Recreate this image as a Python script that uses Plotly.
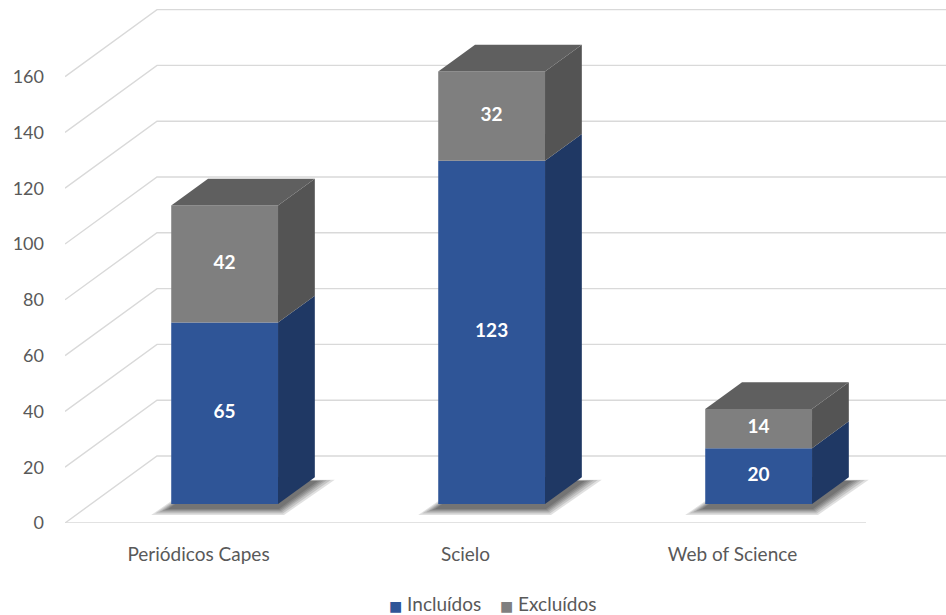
import plotly.graph_objects as go

# ---- data ----
categories = ["Periódicos Capes", "Scielo", "Web of Science"]
incluidos = [65, 123, 20]
excluidos = [42, 32, 14]
y_ticks = [0, 20, 40, 60, 80, 100, 120, 140, 160]
series_names = ["Incluídos", "Excluídos"]

# ---- styles / geometry of the pseudo-3D projection ----
FONT = "Lato"
TXT = "#595959"
GRID = "#d9d9d9"
BLUE_FRONT, BLUE_SIDE, BLUE_TOP = "#2f5597", "#1f3864", "#264a80"
GREY_FRONT, GREY_SIDE, GREY_TOP = "#7f7f7f", "#545454", "#5f5f5f"

PX_X = 267.0      # pixels per category unit
PX_Y = 2.79       # pixels per value unit
DX = 92 / PX_X    # full depth offset in x units
DY = 67 / PX_Y    # full depth offset in value units
Z0 = 0.284        # bar front depth fraction
ZD = 0.40         # bar depth fraction
BW = 0.4          # bar width in category units
PLOT_L, PLOT_H = 65, 523

fig = go.Figure()

x0 = -0.5
x_end = x0 + (946 - PLOT_L) / PX_X
y_top = PLOT_H / PX_Y


def poly(xs, ys, color, opacity=1.0):
    fig.add_trace(go.Scatter(x=xs + [xs[0]], y=ys + [ys[0]], mode="lines",
                             fill="toself", fillcolor=color, opacity=opacity,
                             line=dict(width=0, color=color), hoverinfo="skip",
                             showlegend=False))


# gridlines: front diagonal + back wall horizontal
for v in y_ticks:
    fig.add_trace(go.Scatter(x=[x0, x0 + DX, x_end], y=[v, v + DY, v + DY], mode="lines",
                             line=dict(color=GRID, width=1.4), hoverinfo="skip",
                             showlegend=False))
# floor front edge
fig.add_trace(go.Scatter(x=[x0, len(categories) - 0.5], y=[0, 0], mode="lines",
                         line=dict(color=GRID, width=1.4), hoverinfo="skip", showlegend=False))

bx = Z0 * DX
by = Z0 * DY
dx = ZD * DX
dy = ZD * DY

# shadows
for i, _ in enumerate(categories):
    xl = i + bx - BW / 2
    xr = i + bx + BW / 2
    for e in [20, 16, 12, 9, 6, 3]:
        ex = e / PX_X
        ey = e * 0.35 / PX_Y
        sh = 4 / PX_Y
        poly([xl - ex, xr + ex * 0.3, xr + dx + ex, xl + dx - ex * 0.3],
             [by - ey - sh, by - ey - sh, by + dy - sh + ey * 0.2, by + dy - sh + ey * 0.2],
             "#000000", 0.12)

# bars
label_x, label_y, label_t = [], [], []
for i, _ in enumerate(categories):
    xl = i + bx - BW / 2
    xr = i + bx + BW / 2
    segs = [(0, incluidos[i], BLUE_FRONT, BLUE_SIDE, BLUE_TOP),
            (incluidos[i], incluidos[i] + excluidos[i], GREY_FRONT, GREY_SIDE, GREY_TOP)]
    for k, (lo, hi, cf, cs, ct) in enumerate(segs):
        poly([xl, xr, xr, xl], [by + lo, by + lo, by + hi, by + hi], cf)
        poly([xr, xr + dx, xr + dx, xr], [by + lo, by + lo + dy, by + hi + dy, by + hi], cs)
        if k == len(segs) - 1:
            poly([xl, xr, xr + dx, xl + dx], [by + hi, by + hi, by + hi + dy, by + hi + dy], ct)
        label_x.append(i + bx)
        label_y.append(by + (lo + hi) / 2)
        label_t.append(f"<b>{hi - lo}</b>")

fig.add_trace(go.Scatter(x=label_x, y=label_y, text=label_t, mode="text",
                         textfont=dict(family=FONT, size=19, color="white"),
                         hoverinfo="skip", showlegend=False))

# legend (manual, tight symbol/text spacing like the original)
legend_x = [0.3655, 0.492]
for name, col, lx in zip(series_names, [BLUE_FRONT, GREY_FRONT], legend_x):
    fig.add_annotation(xref="paper", yref="paper", x=lx, y=-0.153,
                       xanchor="left", yanchor="middle", showarrow=False,
                       text=f"<span style='color:{col}; font-family:DejaVu Sans; font-size:14px'>■</span> {name}",
                       font=dict(family=FONT, size=19, color=TXT))

fig.update_layout(
    width=946, height=615,
    margin=dict(l=PLOT_L, r=0, t=0, b=615 - PLOT_H),
    paper_bgcolor="white", plot_bgcolor="white",
    font=dict(family=FONT, size=19, color=TXT),
    showlegend=False,
)
fig.update_xaxes(range=[x0, x_end], tickmode="array", tickvals=list(range(len(categories))),
                 ticktext=categories, showgrid=False, zeroline=False, showline=False,
                 ticks="", ticklabelstandoff=18, fixedrange=True,
                 tickfont=dict(family=FONT, size=19, color=TXT))
fig.update_yaxes(range=[0, y_top], tickmode="array", tickvals=y_ticks,
                 ticktext=[str(v) for v in y_ticks], showgrid=False, zeroline=False,
                 showline=False, ticks="", ticklabelstandoff=20, fixedrange=True,
                 tickfont=dict(family=FONT, size=18, color=TXT))

fig.write_html("out.html")
